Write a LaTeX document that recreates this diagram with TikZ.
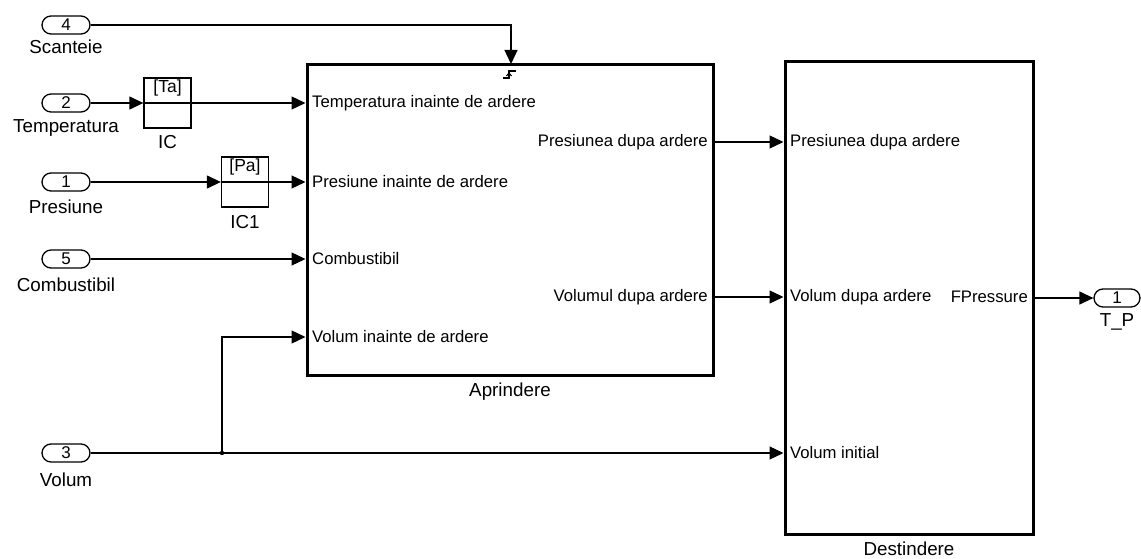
\documentclass[tikz,border=0pt]{standalone}
\usepackage{fontspec}
\setmainfont{Liberation Sans}
\usetikzlibrary{arrows.meta}
\begin{document}
\begin{tikzpicture}[x=1pt,y=-1pt,
  inport/.style={draw,line width=1.3pt,rounded corners=9pt,minimum width=48pt,minimum height=18pt,inner sep=0pt,font=\fontsize{17}{17}\selectfont},
  plabel/.style={inner sep=0pt,font=\fontsize{18.8}{19}\selectfont},
  icbox/.style={draw,line width=1.3pt,minimum width=47pt,minimum height=50pt,inner sep=0pt},
  icval/.style={inner sep=0pt,font=\fontsize{17.5}{18}\selectfont},
  bigblock/.style={draw,line width=3pt,inner sep=0pt},
  portlbl/.style={inner sep=0pt,font=\fontsize{16.7}{17}\selectfont},
  sig/.style={line width=1.3pt,-{Triangle[length=14pt,width=13pt]}},
  wire/.style={line width=1.3pt}]
\useasboundingbox (0,0) rectangle (1141,559);

% input ports and their names
\node[inport] (p4) at (66,25) {4};
\node[plabel] (l4) at (66,47) {Scanteie};
\node[inport] (p2) at (66,103) {2};
\node[plabel] (l2) at (66,128) {Temperatura};
\node[inport] (p1) at (66,182) {1};
\node[plabel] (l1) at (66,207) {Presiune};
\node[inport] (p5) at (66,259) {5};
\node[plabel] (l5) at (66,285) {Combustibil};
\node[inport] (p3) at (66,453) {3};
\node[plabel] (l3) at (66,480) {Volum};

% output port
\node[inport,minimum width=46pt] (po) at (1117,298) {1};
\node[plabel] (lo) at (1117,322) {T\_P};

% initial condition blocks
\node[icbox] (ic) at (167.5,103) {};
\node[icval] (icv) at (167.5,88) {[Ta]};
\node[plabel] (icl) at (167.5,142) {IC};
\draw[wire] (ic.west) -- (ic.east);
\node[icbox] (ic1) at (245,182) {};
\node[icval] (ic1v) at (245,167) {[Pa]};
\node[plabel] (ic1l) at (245,222) {IC1};
\draw[wire] (ic1.west) -- (ic1.east);

% subsystems
\node[bigblock,minimum width=406pt,minimum height=310pt] (apr) at (510,220) {};
\node[plabel] (aprl) at (510,392) {Aprindere};
\node[bigblock,minimum width=248pt,minimum height=472pt] (dest) at (909,298) {};
\node[plabel] (destl) at (909,549) {Destindere};

% port labels of Aprindere
\node[portlbl,anchor=west] (ai1) at (312,103) {Temperatura inainte de ardere};
\node[portlbl,anchor=west] (ai2) at (312,182) {Presiune inainte de ardere};
\node[portlbl,anchor=west] (ai3) at (312,259) {Combustibil};
\node[portlbl,anchor=west] (ai4) at (312,337) {Volum inainte de ardere};
\node[portlbl,anchor=east] (ao1) at (708,142) {Presiunea dupa ardere};
\node[portlbl,anchor=east] (ao2) at (708,297) {Volumul dupa ardere};

% port labels of Destindere
\node[portlbl,anchor=west] (di1) at (790,142) {Presiunea dupa ardere};
\node[portlbl,anchor=west] (di2) at (790,297) {Volum dupa ardere};
\node[portlbl,anchor=west] (di3) at (790,453) {Volum initial};
\node[portlbl,anchor=east] (do1) at (1028,297) {FPressure};

% trigger port with rising-edge symbol
\coordinate (trig) at (511,64);
\draw[line width=1.3pt] (503,78) -- (509,78) -- (509,71) -- (516,71);
\draw[line width=1.1pt] (506.5,76) -- (509,73) -- (511.5,76);

% connections
\draw[sig] (p4.east) -| (trig);
\draw[sig] (p2.east) -- (ic.west);
\draw[sig] (ic.east) -- (apr.west |- ic.east);
\draw[sig] (p1.east) -- (ic1.west);
\draw[sig] (ic1.east) -- (apr.west |- ic1.east);
\draw[sig] (p5.east) -- (apr.west |- p5.east);
\draw[sig] (apr.east |- ao1) -- (dest.west |- ao1);
\draw[sig] (apr.east |- ao2) -- (dest.west |- ao2);
\draw[sig] (dest.east |- po) -- (po.west);
\coordinate (jv) at (222,453);
\draw[sig] (p3.east) -- (dest.west |- p3.east);
\draw[sig] (jv) |- (apr.west |- ai4);
\fill (jv) circle (2.2pt);
\end{tikzpicture}
\end{document}
